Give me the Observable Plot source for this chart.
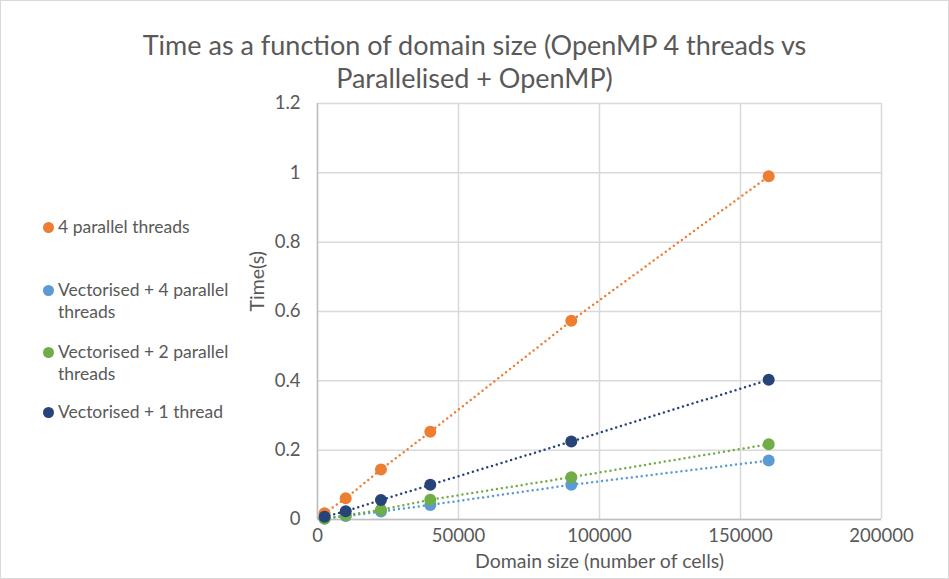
<!DOCTYPE html>
<html><head><meta charset="utf-8">
<script src="https://cdn.jsdelivr.net/npm/d3@7"></script>
<script src="https://cdn.jsdelivr.net/npm/@observablehq/plot@0.6"></script>
<style>
body{margin:0;background:#fff;font-family:Lato,sans-serif;}
#chart{position:relative;width:949px;height:579px;overflow:hidden;background:#fff;}
#frame{position:absolute;left:0;top:0;width:947px;height:577px;border:1px solid #d9d9d9;pointer-events:none;}
#title{position:absolute;left:0;top:28px;width:949px;text-align:center;font-size:27px;color:#595959;line-height:33px;}
.leg{position:absolute;left:43px;width:200px;font-size:17.5px;color:#595959;line-height:22px;}
.leg .sw{position:absolute;left:0;top:6px;width:11px;height:11px;border-radius:50%;}
.leg .tx{position:absolute;left:15px;top:0;width:185px;}
#plot{position:absolute;left:0;top:0;}
</style></head>
<body>
<div id="chart">
  <div id="plot"></div>
  <div id="title"></div>
  <div id="legend"></div>
  <div id="frame"></div>
</div>
<script>
const titleLines = ["Time as a function of domain size (OpenMP 4 threads vs", "Parallelised + OpenMP)"];
const xLabel = "Domain size (number of cells)";
const yLabel = "Time(s)";
const sizes = [2500, 10000, 22500, 40000, 90000, 160000];
const seriesNames = ["4 parallel threads", "Vectorised + 4 parallel threads", "Vectorised + 2 parallel threads", "Vectorised + 1 thread"];
const fourThreads = [0.018, 0.061, 0.144, 0.253, 0.573, 0.990];
const vec4Threads = [0.003, 0.010, 0.023, 0.042, 0.100, 0.170];
const vec2Threads = [0.002, 0.012, 0.028, 0.057, 0.122, 0.217];
const vec1Thread  = [0.008, 0.024, 0.056, 0.100, 0.225, 0.403];
const xTicks = [0, 50000, 100000, 150000, 200000];
const yTicks = [0, 0.2, 0.4, 0.6, 0.8, 1, 1.2];
const colors = ["#ED7D31", "#5B9BD5", "#70AD47", "#264478"];

const seriesValues = [fourThreads, vec4Threads, vec2Threads, vec1Thread];
const rows = seriesValues.map((vals, i) => sizes.map((s, j) => ({series: seriesNames[i], size: s, time: vals[j]})));

const seriesMarks = rows.flatMap((data, i) => [
  Plot.line(data, {x: "size", y: "time", stroke: colors[i], strokeWidth: 2.5, strokeDasharray: "0 5", strokeLinecap: "round"}),
  Plot.dot(data, {x: "size", y: "time", r: 6, fill: colors[i], stroke: "none"})
]);

const chart = Plot.plot({
  width: 949, height: 579,
  marginLeft: 317, marginRight: 68, marginTop: 103, marginBottom: 60,
  style: {fontFamily: "Lato, sans-serif", fontSize: "18.5px", color: "#595959", background: "transparent"},
  x: {domain: [0, 200000], label: null},
  y: {domain: [0, 1.2], label: null},
  marks: [
    Plot.gridX(xTicks, {stroke: "#d9d9d9", strokeOpacity: 1, strokeWidth: 1.5}),
    Plot.gridY(yTicks, {stroke: "#d9d9d9", strokeOpacity: 1, strokeWidth: 1.5}),
    Plot.ruleX([0], {stroke: "#bfbfbf", strokeWidth: 1.5}),
    Plot.ruleY([0], {stroke: "#bfbfbf", strokeWidth: 1.5}),
    Plot.axisX(xTicks, {tickSize: 0, tickPadding: 9, tickFormat: d => String(d), fill: "#595959", fontSize: 18.5, label: null}),
    Plot.axisY(yTicks, {tickSize: 0, tickPadding: 17, tickFormat: d => String(+d.toFixed(1)), fill: "#595959", fontSize: 18.5, label: null}),
    Plot.text([xLabel], {frameAnchor: "bottom", dy: 48, fill: "#595959", fontSize: 19.5}),
    Plot.text([yLabel], {frameAnchor: "left", dx: -60, rotate: -90, fill: "#595959", fontSize: 19.5}),
    ...seriesMarks
  ]
});
document.getElementById("plot").appendChild(chart);

document.getElementById("title").innerHTML = titleLines.map(t => `<div>${t}</div>`).join("");

const legTops = [216, 279, 341, 401];
const legend = document.getElementById("legend");
seriesNames.forEach((name, i) => {
  const d = document.createElement("div");
  d.className = "leg";
  d.style.top = legTops[i] + "px";
  d.innerHTML = `<span class="sw" style="background:${colors[i]}"></span><span class="tx">${name}</span>`;
  legend.appendChild(d);
});
</script>
</body></html>
